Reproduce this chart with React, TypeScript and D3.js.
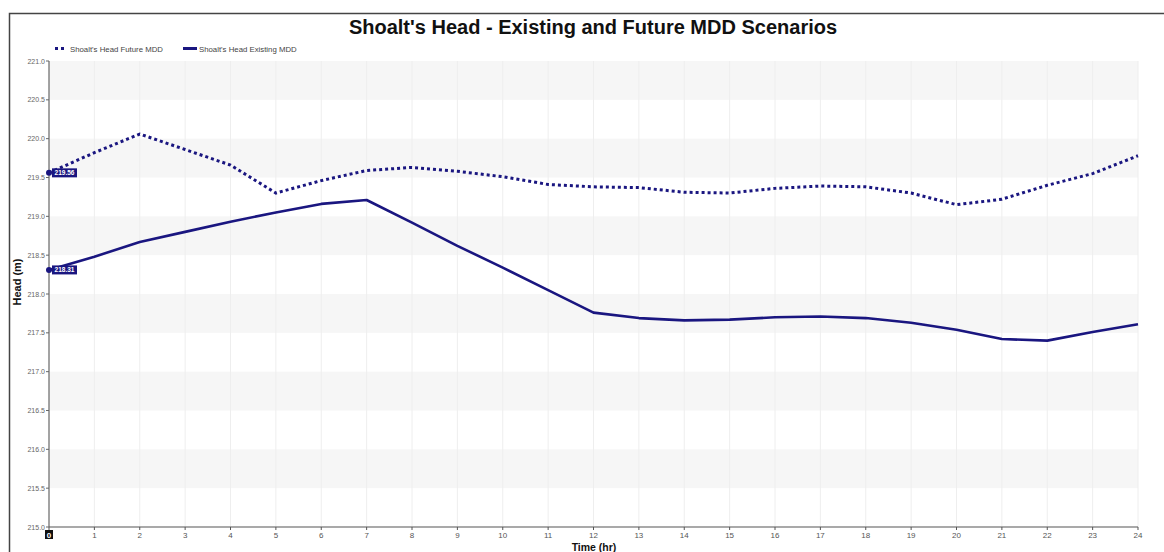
import React from "react";
import * as d3 from "d3";

const hours: number[] = d3.range(0, 25);
const futureMDD: number[] = [219.56, 219.82, 220.06, 219.86, 219.66, 219.30, 219.46, 219.59, 219.63, 219.58, 219.51, 219.41, 219.38, 219.37, 219.31, 219.30, 219.36, 219.39, 219.38, 219.30, 219.15, 219.22, 219.40, 219.55, 219.78];
const existingMDD: number[] = [218.31, 218.48, 218.67, 218.80, 218.93, 219.05, 219.16, 219.21, 218.92, 218.62, 218.34, 218.05, 217.76, 217.69, 217.66, 217.67, 217.70, 217.71, 217.69, 217.63, 217.54, 217.42, 217.40, 217.51, 217.61];
const yTicks: number[] = [215.0, 215.5, 216.0, 216.5, 217.0, 217.5, 218.0, 218.5, 219.0, 219.5, 220.0, 220.5, 221.0];
const seriesNames: string[] = ["Shoalt's Head Future MDD", "Shoalt's Head Existing MDD"];
const title = "Shoalt's Head - Existing and Future MDD Scenarios";

const W = 1164, H = 552;
const left = 49, right = 1138, top = 61, bottom = 527;
const NAVY = "#1a1680";
const FONT = "'Liberation Sans', Arial, sans-serif";

export default function App() {
  const x = d3.scaleLinear().domain([0, 24]).range([left, right]);
  const y = d3.scaleLinear().domain([215, 221]).range([bottom, top]);
  const line = d3.line<number>().x((_, i) => x(hours[i])).y((d) => y(d));
  const bands = yTicks.filter((t, i) => i < yTicks.length - 1 && Math.round((t - 215) * 2) % 2 === 1);

  return (
    <svg width={W} height={H} style={{ position: "absolute", left: 0, top: 0, background: "#fff" }}>
      <rect x={9.5} y={13.5} width={W} height={H} fill="#fff" stroke="#444" strokeWidth={1.5} />
      <text x={593} y={34} textAnchor="middle" fontFamily={FONT} fontWeight="bold" fontSize={20} fill="#111">{title}</text>

      {/* legend */}
      <g fontFamily={FONT} fontSize={7.8} fill="#444">
        <rect x={55} y={47} width={3} height={3} fill={NAVY} />
        <rect x={61} y={47} width={3} height={3} fill={NAVY} />
        <text x={70} y={51.5}>{seriesNames[0]}</text>
        <rect x={183} y={47} width={14} height={3} fill={NAVY} />
        <text x={199} y={51.5}>{seriesNames[1]}</text>
      </g>

      {/* bands */}
      {bands.map((t) => (
        <rect key={t} x={left} y={y(t + 0.5)} width={right - left} height={y(t) - y(t + 0.5)} fill="#f6f6f6" />
      ))}
      {hours.slice(1).map((h) => (
        <line key={h} x1={x(h)} x2={x(h)} y1={top} y2={bottom} stroke="#eeeeee" strokeWidth={1} />
      ))}

      {/* axes */}
      <line x1={left} x2={left} y1={top} y2={bottom} stroke="#666" strokeWidth={1.2} />
      <line x1={left} x2={right} y1={bottom} y2={bottom} stroke="#555" strokeWidth={1.2} />
      <g fontFamily={FONT} fontSize={7} fill="#666">
        {yTicks.map((t) => (
          <g key={t}>
            <line x1={left - 3} x2={left} y1={y(t)} y2={y(t)} stroke="#666" />
            <text x={left - 4} y={y(t) + 2.5} textAnchor="end">{t.toFixed(1)}</text>
          </g>
        ))}
      </g>
      <g fontFamily={FONT} fontSize={8} fill="#555">
        {hours.map((h) => (
          <g key={h}>
            <line x1={x(h)} x2={x(h)} y1={bottom} y2={bottom + 3} stroke="#555" />
            {h === 0 ? (
              <g>
                <rect x={x(h) - 4} y={bottom + 3} width={8} height={9} fill="#111" />
                <text x={x(h)} y={bottom + 10.5} textAnchor="middle" fill="#fff" fontWeight="bold">{h}</text>
              </g>
            ) : (
              <text x={x(h)} y={bottom + 11} textAnchor="middle">{h}</text>
            )}
          </g>
        ))}
      </g>
      <text x={594} y={551} textAnchor="middle" fontFamily={FONT} fontWeight="bold" fontSize={10.5} fill="#111">Time (hr)</text>
      <text transform={`translate(21,${(top + bottom) / 2 - 12}) rotate(-90)`} textAnchor="middle" fontFamily={FONT} fontWeight="bold" fontSize={11} fill="#111">Head (m)</text>

      {/* series */}
      <path d={line(futureMDD) || ""} fill="none" stroke={NAVY} strokeWidth={3} strokeDasharray="3,3" />
      <path d={line(existingMDD) || ""} fill="none" stroke={NAVY} strokeWidth={2.6} strokeLinejoin="round" />

      {/* value labels at start */}
      {[futureMDD[0], existingMDD[0]].map((v, i) => (
        <g key={i}>
          <circle cx={x(0)} cy={y(v)} r={3} fill={NAVY} />
          <rect x={x(0) + 3} y={y(v) - 4.5} width={25} height={9} fill={NAVY} />
          <text x={x(0) + 15.5} y={y(v) + 2.5} textAnchor="middle" fontFamily={FONT} fontWeight="bold" fontSize={6.5} fill="#fff">{v.toFixed(2)}</text>
        </g>
      ))}
    </svg>
  );
}
